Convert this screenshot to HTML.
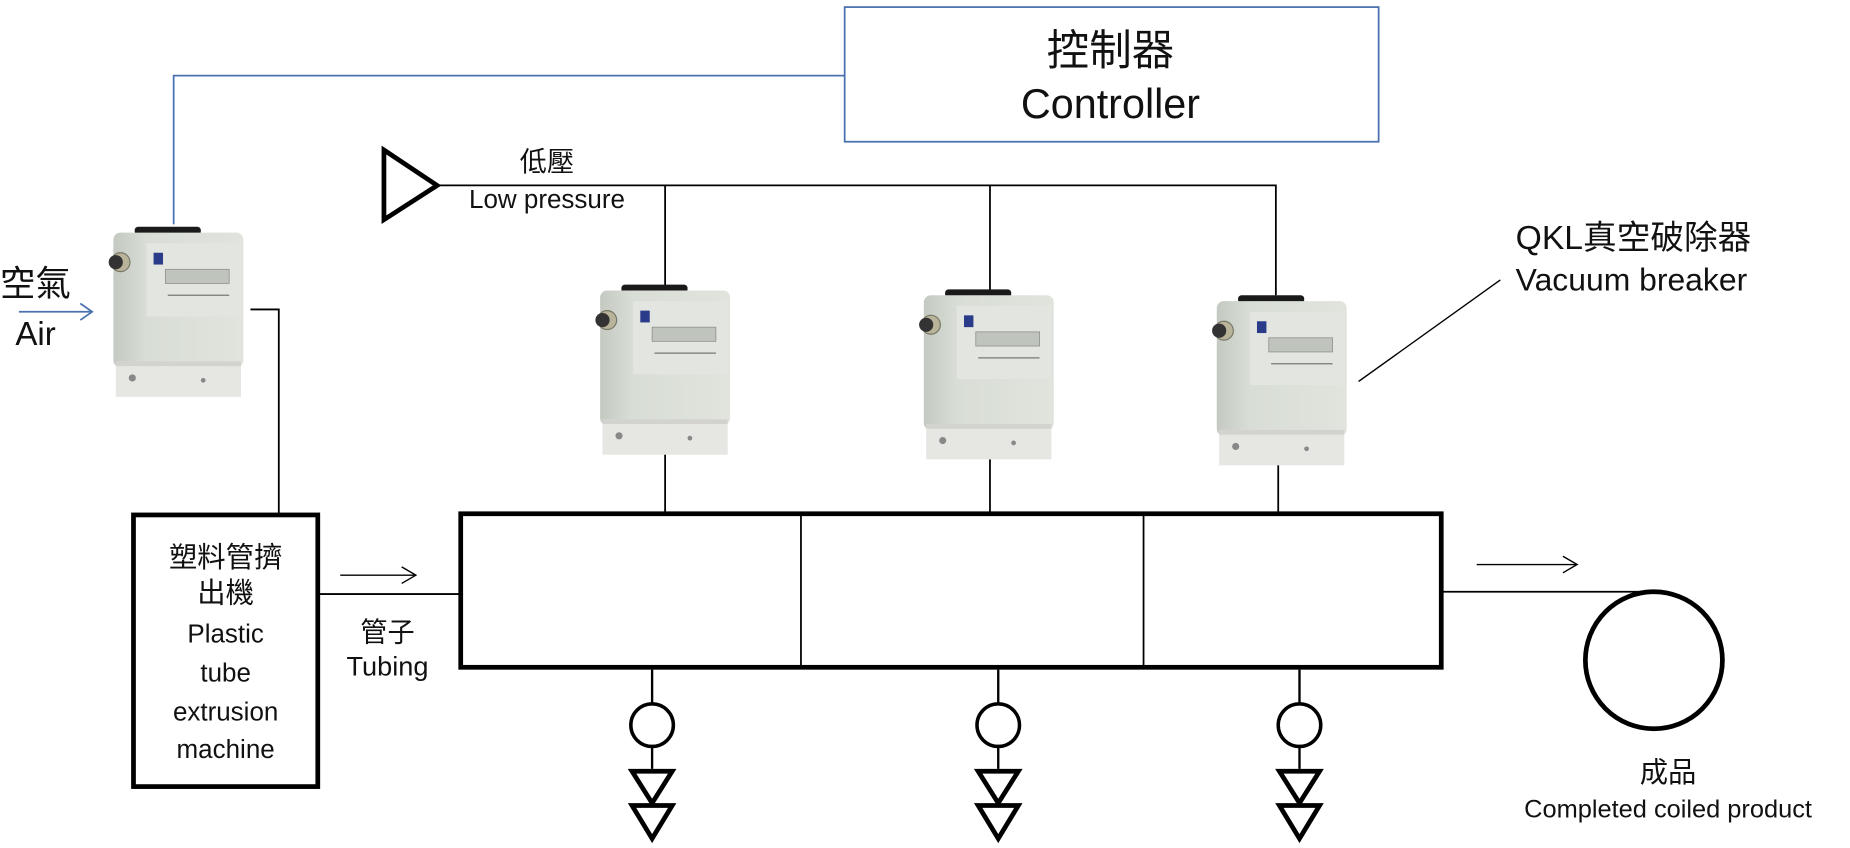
<!DOCTYPE html>
<html><head><meta charset="utf-8"><style>
html,body{margin:0;padding:0;background:#fff;}
svg{display:block;}
text{font-family:"Liberation Sans","Noto Sans CJK TC",sans-serif;fill:#111;}
</style></head><body>
<svg width="1850" height="848" viewBox="0 0 1566 718" preserveAspectRatio="none" xmlns="http://www.w3.org/2000/svg">
<defs>
<linearGradient id="body" x1="0" x2="1" y1="0" y2="0">
<stop offset="0" stop-color="#c4cac1"/><stop offset="0.25" stop-color="#d8ddd5"/><stop offset="1" stop-color="#e0e4dd"/></linearGradient>
<g id="dev">
<rect x="22" y="0" width="56" height="7" rx="3" fill="#1a1a1a"/>
<rect x="4" y="5" width="110" height="114" rx="6" fill="url(#body)"/>
<rect x="32" y="14" width="80" height="62" fill="#e3e6e0"/>
<rect x="48" y="36" width="54" height="12" fill="#bfc4bc" stroke="#888" stroke-width="0.6"/>
<rect x="38" y="22" width="8" height="10" fill="#2a3b8a"/>
<line x1="50" y1="58" x2="102" y2="58" stroke="#777" stroke-width="1"/>
<circle cx="10" cy="30" r="8" fill="#b9b39a" stroke="#776" stroke-width="1"/>
<circle cx="6" cy="30" r="6" fill="#333"/>
<rect x="6" y="114" width="106" height="30" fill="#e6e6e3"/>
<rect x="6" y="114" width="106" height="4" fill="#d2d2ce"/>
<circle cx="20" cy="128" r="3" fill="#888"/><circle cx="80" cy="130" r="2" fill="#888"/>
</g>
<g id="pump">
<line x1="0" y1="0" x2="0" y2="28" stroke="#000" stroke-width="2"/>
<circle cx="0" cy="47" r="18" fill="none" stroke="#000" stroke-width="3"/>
<line x1="0" y1="65" x2="0" y2="84" stroke="#000" stroke-width="2"/>
<polygon points="-17,86 17,86 0,113" fill="none" stroke="#000" stroke-width="4" stroke-linejoin="miter"/>
<polygon points="-17,115 17,115 0,143" fill="none" stroke="#000" stroke-width="4"/>
</g>
</defs>
<rect x="715" y="6" width="452" height="114" fill="#fff" stroke="#4a72b0" stroke-width="1.5"/>
<text x="940" y="55" font-size="36" text-anchor="middle">控制器</text>
<text x="940" y="100" font-size="35" text-anchor="middle">Controller</text>
<polyline points="715,64 147,64 147,190" fill="none" stroke="#4a72b0" stroke-width="1.5"/>
<text x="0" y="250" font-size="30">空氣</text>
<line x1="16" y1="264" x2="78" y2="264" stroke="#4a72b0" stroke-width="1.5"/>
<polyline points="68,257 78,264 68,271" fill="none" stroke="#4a72b0" stroke-width="1.5"/>
<text x="13" y="292" font-size="28">Air</text>
<polygon points="325,127 370,157 325,186" fill="#fff" stroke="#000" stroke-width="4"/>
<text x="463" y="145" font-size="23" text-anchor="middle">低壓</text>
<text x="463" y="176" font-size="22" text-anchor="middle">Low pressure</text>
<polyline points="370,157 1080,157 1080,250" fill="none" stroke="#000" stroke-width="1.5"/>
<line x1="563" y1="157" x2="563" y2="245" stroke="#000" stroke-width="1.5"/>
<line x1="838" y1="157" x2="838" y2="250" stroke="#000" stroke-width="1.5"/>
<use href="#dev" x="92" y="192"/>
<use href="#dev" x="504" y="241"/>
<use href="#dev" x="778" y="245"/>
<use href="#dev" x="1026" y="250"/>
<line x1="563" y1="385" x2="563" y2="435" stroke="#000" stroke-width="1.5"/>
<line x1="838" y1="389" x2="838" y2="435" stroke="#000" stroke-width="1.5"/>
<line x1="1082" y1="394" x2="1082" y2="435" stroke="#000" stroke-width="1.5"/>
<text x="1283" y="211" font-size="28.5">QKL真空破除器</text>
<text x="1283" y="246" font-size="27">Vacuum breaker</text>
<line x1="1150" y1="323" x2="1270" y2="237" stroke="#000" stroke-width="1.2"/>
<polyline points="212,262 236,262 236,436" fill="none" stroke="#000" stroke-width="1.5"/>
<rect x="113" y="436" width="156" height="230" fill="#fff" stroke="#000" stroke-width="4"/>
<text x="191" y="480" font-size="24" text-anchor="middle">塑料管擠</text>
<text x="191" y="510" font-size="24" text-anchor="middle">出機</text>
<text x="191" y="544" font-size="22" text-anchor="middle">Plastic</text>
<text x="191" y="577" font-size="22" text-anchor="middle">tube</text>
<text x="191" y="610" font-size="22" text-anchor="middle">extrusion</text>
<text x="191" y="642" font-size="22" text-anchor="middle">machine</text>
<line x1="269" y1="503" x2="390" y2="503" stroke="#000" stroke-width="1.5"/>
<line x1="288" y1="487" x2="352" y2="487" stroke="#000" stroke-width="1.2"/>
<polyline points="340,480 352,487 340,494" fill="none" stroke="#000" stroke-width="1.2"/>
<text x="328" y="543" font-size="23" text-anchor="middle">管子</text>
<text x="328" y="572" font-size="23" text-anchor="middle">Tubing</text>
<rect x="390" y="435" width="830" height="130" fill="#fff" stroke="#000" stroke-width="4"/>
<line x1="678" y1="435" x2="678" y2="565" stroke="#000" stroke-width="1.5"/>
<line x1="968" y1="435" x2="968" y2="565" stroke="#000" stroke-width="1.5"/>
<use href="#pump" x="552" y="567"/>
<use href="#pump" x="845" y="567"/>
<use href="#pump" x="1100" y="567"/>
<line x1="1220" y1="501" x2="1400" y2="501" stroke="#000" stroke-width="1.5"/>
<line x1="1250" y1="478" x2="1335" y2="478" stroke="#000" stroke-width="1.2"/>
<polyline points="1323,471 1335,478 1323,485" fill="none" stroke="#000" stroke-width="1.2"/>
<circle cx="1400" cy="559" r="58" fill="none" stroke="#000" stroke-width="4"/>
<text x="1412" y="662" font-size="24" text-anchor="middle">成品</text>
<text x="1412" y="692" font-size="21.5" text-anchor="middle">Completed  coiled product</text>
</svg>
</body></html>
